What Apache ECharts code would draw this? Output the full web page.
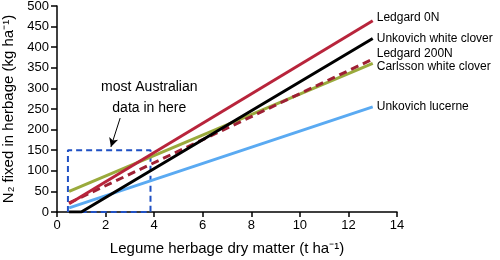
<!DOCTYPE html>
<html><head><meta charset="utf-8">
<script src="https://cdn.jsdelivr.net/npm/echarts@6/dist/echarts.min.js"></script>
<style>html,body{margin:0;padding:0;background:#fff}#c{width:500px;height:260px}</style>
</head><body><div id="c"></div>
<script>
// Data
const ledgard0N = [[0.5, 20], [13, 464]];
const unkovichWhite = [[0.5, 0], [1.0, 0], [13, 421]];
const ledgard200N = [[0.5, 22], [13, 371]];
const carlsson = [[0.5, 50], [13, 361]];
const unkovichLucerne = [[0.5, 10], [13, 255]];
const boxX = [0.45, 3.85];
const boxY = [0, 150];
const xTicks = [0, 14, 2];
const yTicks = [0, 500, 50];
const noteText = 'most Australian\ndata in here';

const font = 'Liberation Sans, Arial, Helvetica, sans-serif';
const chart = echarts.init(document.getElementById('c'), null, {renderer: 'canvas'});

function lineSeries(name, data, color, dashed, offset) {
  return {
    type: 'line', name, data, symbol: 'none', silent: true,
    lineStyle: {color, width: 3, type: dashed ? [8, 5] : 'solid', cap: 'butt'},
    endLabel: {show: true, formatter: name, color: '#000', fontSize: 12, fontFamily: font,
      offset: offset || [0, 0], distance: 4},
    z: 3
  };
}

const boxData = [[boxX[0], boxY[0]], [boxX[0], boxY[1]], [boxX[1], boxY[1]], [boxX[1], boxY[0]], [boxX[0], boxY[0]]];

chart.setOption({
  animation: false,
  grid: {left: 57, right: 103, top: 6, bottom: 48, containLabel: false, outerBoundsMode: 'none'},
  xAxis: {
    type: 'value', min: xTicks[0], max: xTicks[1], interval: xTicks[2],
    name: 'Legume herbage dry matter (t ha\u207B\u00B9)', nameLocation: 'middle', nameGap: 29,
    nameTextStyle: {fontSize: 15, color: '#000', fontFamily: font},
    axisLine: {lineStyle: {color: '#000', width: 1.5}},
    axisTick: {length: 5, lineStyle: {color: '#000', width: 1.5}},
    axisLabel: {fontSize: 13, color: '#000', fontFamily: font, margin: 7},
    splitLine: {show: false}
  },
  yAxis: {
    type: 'value', min: yTicks[0], max: yTicks[1], interval: yTicks[2],
    name: 'N\u2082 fixed in herbage (kg ha\u207B\u00B9)', nameLocation: 'middle', nameGap: 35,
    nameTextStyle: {fontSize: 15, color: '#000', fontFamily: font},
    axisLine: {show: true, lineStyle: {color: '#000', width: 1.5}},
    axisTick: {show: true, length: 6, lineStyle: {color: '#000', width: 1.5}},
    axisLabel: {fontSize: 13, color: '#000', fontFamily: font, margin: 8},
    splitLine: {show: false}
  },
  series: [
    {
      type: 'line', data: boxData, symbol: 'none', silent: true, z: 2,
      lineStyle: {color: '#1f50c4', width: 2, type: [6, 4]},
      markLine: {
        silent: true, symbol: ['none', 'arrow'], symbolSize: [7, 9],
        lineStyle: {color: '#000', width: 1, type: 'solid'},
        label: {show: false},
        data: [[{coord: [2.6, 228]}, {coord: [2.22, 158]}]]
      },
      markPoint: {
        silent: true, symbol: 'circle', symbolSize: 0,
        label: {show: true, formatter: noteText, color: '#000', fontSize: 14, fontFamily: font,
          lineHeight: 21, align: 'center', verticalAlign: 'middle'},
        data: [{coord: [3.8, 277]}]
      }
    },
    lineSeries('Unkovich lucerne', unkovichLucerne, '#5aaaf2', false),
    lineSeries('Carlsson white clover', carlsson, '#9aaa3c', false, [0, 3]),
    lineSeries('Ledgard 200N', ledgard200N, '#9e2034', true, [0, -5]),
    lineSeries('Unkovich white clover', unkovichWhite, '#000000', false),
    lineSeries('Ledgard 0N', ledgard0N, '#b8243b', false, [0, -3])
  ]
});
</script></body></html>
